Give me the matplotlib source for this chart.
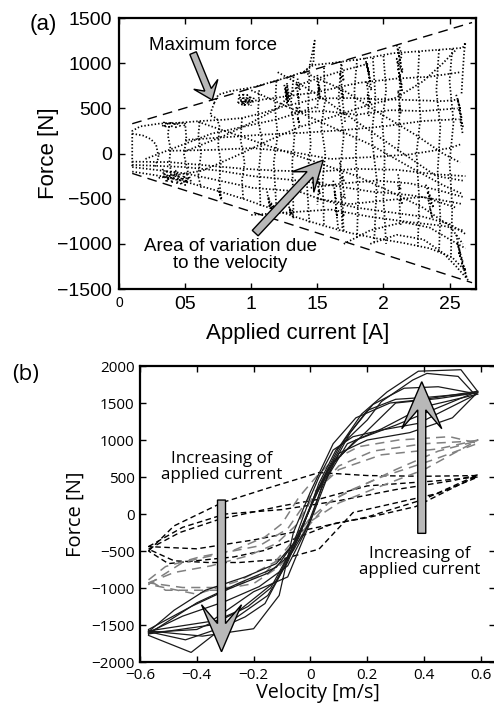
import numpy as np
import matplotlib.pyplot as plt
from matplotlib.patches import FancyArrow

# ---------------- panel (a): force vs applied current ----------------
current_ticks = [0, 0.5, 1, 1.5, 2, 2.5]
current_tick_labels = ['0', '05', '1', '15', '2', '25']
force_ticks_a = [-1500, -1000, -500, 0, 500, 1000, 1500]

# dashed envelope (current [A], force [N])
envelope_current = [0.10, 2.67]
envelope_upper = [330, 1450]
envelope_lower = [-220, -1430]

traces_a = [
    [(0.72, 560), (0.75, 650), (0.84, 690), (1.02, 735), (1.22, 820), (1.40, 905), (1.47, 980),
     (1.60, 1000), (1.85, 1050), (2.07, 1110), (2.25, 1130), (2.43, 1150), (2.60, 1170),
     (2.62, 1230), (2.61, 1120), (2.60, 900), (2.59, 650)],
    [(1.40, 905), (1.47, 1000), (1.48, 1250), (1.46, 1100), (1.44, 960)],
    [(0.72, 560), (0.70, 480), (0.69, 420), (0.74, 390), (0.76, 300), (0.75, 100), (0.77, -100),
     (0.76, -300), (0.77, -490)],
    [(0.10, -140), (0.10, 250), (0.16, 300), (0.30, 330), (0.45, 340), (0.62, 360), (0.80, 375),
     (0.93, 393), (1.09, 450), (1.24, 520), (1.36, 560), (1.50, 610), (1.75, 614), (2.00, 600),
     (2.25, 590), (2.45, 580), (2.58, 600)],
    [(0.10, 220), (0.18, 200), (0.24, 160), (0.28, 100), (0.30, -40), (0.27, -150)],
    [(0.10, -90), (0.38, -95), (0.65, -130), (0.95, -170), (1.20, -190), (1.50, -200),
     (1.80, -170), (2.10, -180), (2.40, -230), (2.62, -250)],
    [(0.10, -125), (0.50, -150), (0.76, -190), (1.01, -250), (1.36, -300), (1.60, -350),
     (1.90, -420), (2.20, -460), (2.45, -520), (2.60, -560)],
    [(0.10, -200), (0.25, -234), (0.40, -271), (0.58, -345), (0.76, -419), (0.96, -511),
     (1.14, -603), (1.36, -714), (1.55, -800), (1.75, -880), (1.95, -940), (2.15, -990),
     (2.35, -1050), (2.52, -1150), (2.62, -1300)],
    [(0.10, -150), (0.50, -220), (0.76, -300), (1.01, -380), (1.36, -420), (1.55, -520),
     (1.80, -600), (2.05, -650), (2.30, -700), (2.50, -780), (2.63, -900)],
    [(0.30, -270), (0.63, -190), (0.88, -30), (1.14, 150), (1.36, 290), (1.60, 400), (1.85, 520),
     (2.10, 620), (2.30, 800), (2.45, 1000), (2.55, 1150)],
    [(0.50, 24), (0.80, 200), (1.01, 350), (1.20, 500), (1.36, 760), (1.50, 830), (1.72, 930),
     (1.90, 1000)],
    [(0.60, 350), (0.90, 200), (1.20, 50), (1.50, -100), (1.80, -250), (2.05, -420),
     (2.30, -600), (2.50, -800), (2.60, -1000)],
    [(1.00, 700), (1.30, 500), (1.60, 300), (1.90, 100), (2.20, -150), (2.45, -350), (2.60, -450)],
    [(1.40, 900), (1.70, 700), (2.00, 420), (2.25, 200), (2.45, 0), (2.58, -100)],
    [(0.38, 30), (0.70, 40), (1.01, 60), (1.30, 20), (1.60, -60), (1.90, -40), (2.20, -10),
     (2.50, 60), (2.58, 100)],
    [(0.50, 150), (0.80, 180), (1.10, 210), (1.40, 230), (1.70, 260), (2.00, 300), (2.30, 360),
     (2.57, 380)],
    [(0.90, 560), (1.20, 620), (1.50, 680), (1.80, 780), (2.10, 830), (2.35, 850), (2.58, 900)],
    [(1.00, -680), (1.30, -650), (1.60, -620), (1.90, -700), (2.20, -760), (2.45, -800),
     (2.60, -850)],
    [(1.50, -500), (1.75, -560), (2.00, -520), (2.30, -480), (2.55, -600)],
    [(1.90, -1000), (2.10, -900), (2.30, -950), (2.45, -1100), (2.55, -1250), (2.64, -1400)],
    [(1.30, 450), (1.55, 470), (1.80, 430), (2.05, 480), (2.30, 470), (2.56, 500)],
    [(1.45, -380), (1.70, -330), (1.95, -300), (2.20, -330), (2.45, -420), (2.60, -480)],
    [(1.20, 900), (1.45, 700), (1.65, 500), (1.95, 200), (2.15, 0), (2.40, -250), (2.60, -300)],
    [(0.20, -60), (0.45, 80), (0.70, 220), (0.95, 300), (1.20, 380), (1.50, 520)],
    [(1.70, -1000), (1.90, -850), (2.15, -760), (2.35, -820), (2.50, -950), (2.62, -1050)],
    # wavy vertical runs
    [(0.38, 340), (0.37, 200), (0.39, 50), (0.38, -100), (0.40, -250)],
    [(0.50, 340), (0.51, 150), (0.49, 0), (0.52, -200), (0.50, -330)],
    [(0.61, 350), (0.60, 200), (0.62, 0), (0.60, -250), (0.62, -380)],
    [(0.93, 393), (0.92, 150), (0.95, -100), (0.93, -300), (0.94, -520)],
    [(1.06, 700), (1.05, 400), (1.08, 150), (1.06, -150), (1.07, -600)],
    [(1.19, 800), (1.18, 500), (1.20, 200), (1.17, -100), (1.19, -600)],
    [(1.32, 850), (1.30, 550), (1.33, 250), (1.31, -100), (1.32, -680)],
    [(1.44, 900), (1.43, 500), (1.45, 100), (1.42, -300), (1.44, -780)],
    [(1.55, 950), (1.56, 600), (1.53, 300), (1.56, 0), (1.54, -300), (1.55, -800)],
    [(1.68, 990), (1.66, 600), (1.70, 200), (1.67, -200), (1.69, -850)],
    [(1.80, 1040), (1.78, 700), (1.80, 300), (1.79, -50), (1.81, -400), (1.80, -950)],
    [(1.92, 1060), (1.94, 600), (1.91, 200), (1.95, -300), (1.93, -980)],
    [(2.00, 1080), (2.02, 700), (1.99, 350), (2.01, 0), (2.00, -500), (2.02, -1000)],
    [(2.27, 1130), (2.26, 800), (2.28, 400), (2.25, 0), (2.27, -500), (2.26, -1030)],
    [(2.42, 1150), (2.40, 700), (2.43, 300), (2.41, -200), (2.43, -700), (2.42, -1100)],
    [(2.52, 1160), (2.50, 800), (2.53, 350), (2.50, -100), (2.52, -600), (2.51, -1150)],
    # dense jittery clusters
    [(0.33, 300), (0.34, 345), (0.35, 285), (0.36, 350), (0.38, 295), (0.39, 355), (0.40, 300),
     (0.42, 345), (0.43, 290), (0.45, 350), (0.46, 305), (0.48, 340), (0.50, 300)],
    [(0.33, -170), (0.34, -260), (0.36, -180), (0.37, -300), (0.39, -200), (0.40, -330),
     (0.42, -210), (0.44, -340), (0.45, -230), (0.47, -350), (0.49, -240), (0.51, -320),
     (0.53, -250), (0.55, -330)],
    [(0.34, -220), (0.36, -320), (0.38, -240), (0.41, -290), (0.43, -190), (0.46, -300),
     (0.48, -260), (0.50, -350), (0.52, -280), (0.54, -300)],
    [(0.90, 560), (0.91, 650), (0.93, 540), (0.94, 670), (0.95, 520), (0.97, 650), (0.98, 540),
     (0.99, 640), (1.01, 560), (1.02, 620)],
    [(0.92, 600), (0.94, 540), (0.96, 610), (0.97, 560), (0.99, 600), (1.00, 530)],
    [(1.25, 760), (1.27, 560), (1.26, 740), (1.28, 580), (1.27, 780), (1.29, 600), (1.26, 700),
     (1.28, 540)],
    [(1.35, 830), (1.37, 700), (1.34, 780), (1.36, 600), (1.35, 680), (1.37, 450), (1.34, 520),
     (1.36, 350), (1.35, 400), (1.37, 280)],
    [(1.50, 870), (1.52, 700), (1.50, 800), (1.52, 600), (1.51, 720), (1.50, 500)],
    [(1.50, -200), (1.52, -350), (1.50, -300), (1.52, -450), (1.51, -400), (1.50, -566)],
    [(1.68, 1020), (1.70, 800), (1.67, 900), (1.70, 600), (1.68, 700), (1.71, 350)],
    [(1.67, -100), (1.70, -300), (1.68, -250), (1.71, -500), (1.68, -450), (1.70, -700),
     (1.69, -650), (1.70, -860)],
    [(1.86, 1060), (1.89, 900), (1.87, 1000), (1.90, 800), (1.88, 950), (1.91, 700), (1.87, 800),
     (1.90, 550), (1.88, 650), (1.89, 400)],
    [(2.10, 1200), (2.13, 1000), (2.11, 1150), (2.14, 900), (2.10, 1050), (2.13, 800),
     (2.11, 950), (2.14, 700), (2.12, 850), (2.13, 600), (2.11, 700), (2.13, 450), (2.12, 550),
     (2.12, 200), (2.11, 24)],
    [(2.12, 1180), (2.14, 1080), (2.11, 1000), (2.15, 920), (2.12, 860), (2.14, 760)],
    [(2.11, -230), (2.13, -400), (2.11, -350), (2.14, -550), (2.12, -500), (2.13, -790)],
    [(2.32, -345), (2.36, -500), (2.33, -420), (2.38, -600), (2.34, -520), (2.37, -714),
     (2.35, -600)],
    [(2.55, 650), (2.58, 500), (2.56, 600), (2.59, 400), (2.57, 500), (2.60, 300), (2.58, 380),
     (2.60, 210)],
    [(2.55, -900), (2.58, -1100), (2.56, -1000), (2.60, -1200), (2.57, -1100), (2.62, -1300),
     (2.59, -1200), (2.63, -1380), (2.61, -1250)],
    [(1.12, -420), (1.14, -600), (1.13, -480), (1.16, -680), (1.15, -540), (1.18, -700),
     (1.17, -580), (1.20, -660)],
    [(0.75, -380), (0.77, -500), (0.76, -420), (0.78, -520)],
    [(1.28, -550), (1.30, -680), (1.29, -600), (1.32, -720), (1.31, -620)],
    [(1.62, -300), (1.64, -500), (1.63, -420), (1.65, -700), (1.64, -600), (1.66, -860)],
]

# ---------------- panel (b): force vs velocity ----------------
velocity_ticks = [-0.6, -0.4, -0.2, 0, 0.2, 0.4, 0.6]
velocity_tick_labels = ['\u22120.6', '\u22120.4', '\u22120.2', '0', '0.2', '0.4', '0.6']
force_ticks_b = [-2000, -1500, -1000, -500, 0, 500, 1000, 1500, 2000]

# high current: solid black loops (velocity [m/s], force [N])
loops_high = [
    ([-0.57, -0.48, -0.37, -0.23, -0.12, -0.06, 0.00, 0.03, 0.08, 0.15, 0.25, 0.38, 0.58,
      0.52, 0.41, 0.36, 0.25, 0.20, 0.09, 0.03, 0.00, -0.04, -0.11, -0.16, -0.23, -0.32, -0.44, -0.57],
     [-1590, -1300, -1030, -850, -670, -400, 230, 500, 865, 1045, 1135, 1225, 1610,
      1860, 1900, 1810, 1520, 1270, 865, 415, 100, -310, -850, -1210, -1390, -1545, -1700, -1590]),
    ([-0.57, -0.45, -0.30, -0.18, -0.08, -0.02, 0.04, 0.10, 0.20, 0.35, 0.50, 0.59,
      0.53, 0.38, 0.27, 0.18, 0.10, 0.04, -0.02, -0.08, -0.15, -0.28, -0.42, -0.57],
     [-1600, -1380, -1180, -980, -700, -250, 350, 820, 1000, 1100, 1300, 1650,
      1950, 1930, 1650, 1350, 900, 450, -100, -650, -1100, -1450, -1870, -1640]),
    ([-0.57, -0.42, -0.28, -0.15, -0.07, 0.00, 0.06, 0.13, 0.25, 0.40, 0.59,
      0.45, 0.33, 0.22, 0.14, 0.07, 0.01, -0.05, -0.12, -0.25, -0.40, -0.57],
     [-1560, -1250, -1000, -800, -550, -100, 500, 950, 1150, 1450, 1620,
      1720, 1700, 1480, 1100, 600, 200, -350, -900, -1300, -1560, -1600]),
    ([-0.57, -0.40, -0.25, -0.12, -0.04, 0.02, 0.08, 0.18, 0.30, 0.45, 0.59,
      0.42, 0.30, 0.20, 0.12, 0.05, -0.01, -0.07, -0.14, -0.22, -0.35, -0.57],
     [-1620, -1200, -930, -720, -300, 300, 700, 1050, 1500, 1560, 1640,
      1580, 1550, 1400, 1000, 500, 0, -500, -1000, -1250, -1500, -1620]),
    ([-0.57, -0.35, -0.20, -0.08, -0.01, 0.06, 0.16, 0.30, 0.59,
      0.40, 0.28, 0.16, 0.08, 0.00, -0.06, -0.11, -0.20, -0.38, -0.57],
     [-1580, -1450, -1050, -850, -200, 600, 1000, 1200, 1660,
      1550, 1500, 1300, 950, 300, -250, -1100, -1550, -1650, -1580]),
]

# low current: black dashed loops
loops_low = [
    ([-0.57, -0.48, -0.31, -0.15, 0.03, 0.20, 0.40, 0.59,
      0.50, 0.37, 0.20, 0.08, -0.04, -0.16, -0.27, -0.40, -0.50, -0.57],
     [-500, -160, 155, 350, 560, 520, 510, 520,
      350, 100, -50, -130, -310, -490, -580, -630, -670, -500]),
    ([-0.57, -0.46, -0.32, -0.10, 0.03, 0.20, 0.45, 0.59,
      0.45, 0.30, 0.15, 0.03, -0.10, -0.25, -0.36, -0.48, -0.57],
     [-475, -250, -70, 110, 200, 380, 450, 500,
      280, 150, 20, -475, -610, -655, -655, -632, -475]),
    ([-0.57, -0.45, -0.30, -0.10, 0.10, 0.30, 0.50, 0.59,
      0.40, 0.20, 0.00, -0.20, -0.40, -0.57],
     [-440, -180, 0, 60, 180, 330, 450, 530,
      200, -40, -200, -350, -470, -440]),
]

# medium current: grey dashed loops
loops_mid = [
    ([-0.57, -0.51, -0.39, -0.27, -0.16, -0.10, -0.04, 0.02, 0.08, 0.17, 0.31, 0.49, 0.59,
      0.43, 0.25, 0.14, 0.06, -0.02, -0.06, -0.11, -0.20, -0.33, -0.51, -0.57],
     [-890, -710, -580, -490, -310, -130, 230, 500, 730, 910, 1000, 1045, 955,
      730, 500, 320, 140, -220, -490, -710, -940, -1030, -1030, -890]),
    ([-0.57, -0.48, -0.35, -0.22, -0.12, -0.05, 0.02, 0.10, 0.22, 0.40, 0.59,
      0.45, 0.30, 0.18, 0.08, 0.00, -0.08, -0.16, -0.28, -0.45, -0.57],
     [-930, -790, -700, -565, -400, -150, 300, 650, 850, 950, 990,
      850, 600, 380, 200, -50, -450, -800, -993, -993, -930]),
    ([-0.57, -0.45, -0.30, -0.18, -0.08, 0.00, 0.10, 0.25, 0.45, 0.59,
      0.40, 0.25, 0.10, 0.00, -0.10, -0.25, -0.40, -0.57],
     [-950, -655, -520, -430, -200, 250, 600, 800, 880, 1000,
      600, 380, 150, -100, -600, -900, -1083, -950]),
]

# ---------------- figure ----------------
fig = plt.figure(figsize=(4.94, 7.07), dpi=100)
font_a = 'Liberation Sans'
font_b = 'Open Sans'

ax1 = fig.add_axes([0.2409, 0.5912, 0.7227, 0.3833])
for tr in traces_a:
    tr = np.array(tr)
    ax1.plot(tr[:, 0], tr[:, 1], ls=(0, (0.8, 1.2)), lw=1.25, color='k')
ax1.plot(envelope_current, envelope_upper, ls=(0, (7, 4.5)), lw=1.0, color='k')
ax1.plot(envelope_current, envelope_lower, ls=(0, (7, 4.5)), lw=1.0, color='k')
ax1.set_xlim(0, 2.7)
ax1.set_ylim(-1500, 1500)
ax1.set_xticks(current_ticks)
ax1.set_xticklabels(current_tick_labels)
ax1.set_yticks(force_ticks_a)
ax1.tick_params(direction='in', top=True, right=True, length=4, width=1.0, labelsize=14,
                pad=5)
for lab in ax1.get_xticklabels() + ax1.get_yticklabels():
    lab.set_family(font_a)
ax1.get_xticklabels()[0].set_fontsize(10)
for sp in ax1.spines.values():
    sp.set_linewidth(1.6)
ax1.set_xlabel('Applied current [A]', family=font_a, fontsize=16, labelpad=7)
ax1.set_ylabel('Force [N]', family=font_a, fontsize=16, labelpad=-1)
ax1.text(0.712, 1201, 'Maximum force', family=font_a, fontsize=13.5, ha='center', va='center')
ax1.text(0.84, -1125, 'Area of variation due\nto the velocity', family=font_a, fontsize=13.5,
         ha='center', va='center', linespacing=0.95)
fig.text(0.087, 0.965, '(a)', family=font_a, fontsize=16, ha='center', va='center')

ax2 = fig.add_axes([0.2834, 0.0636, 0.7187, 0.4187])
for v, f in loops_low:
    ax2.plot(v, f, ls=(0, (4, 2.5)), lw=1.0, color='k')
for v, f in loops_mid:
    ax2.plot(v, f, ls=(0, (6, 4)), lw=1.1, color='0.5')
for v, f in loops_high:
    ax2.plot(v, f, ls='-', lw=0.9, color='0.1')
ax2.set_xlim(-0.6, 0.65)
ax2.set_ylim(-2000, 2000)
ax2.set_xticks(velocity_ticks)
ax2.set_xticklabels(velocity_tick_labels)
ax2.set_yticks(force_ticks_b)
ax2.tick_params(direction='in', top=True, right=True, length=4, width=1.0, labelsize=11,
                pad=4)
for lab in ax2.get_xticklabels() + ax2.get_yticklabels():
    lab.set_family(font_b)
for sp in ax2.spines.values():
    sp.set_linewidth(1.6)
ax2.set_xlabel('Velocity [m/s]', family=font_b, fontsize=14.2, labelpad=0)
ax2.set_ylabel('Force [N]', family=font_b, fontsize=14.5, labelpad=4)
ax2.text(-0.311, 635, 'Increasing of\napplied current', family=font_b, fontsize=12.2,
         ha='center', va='center', linespacing=0.95)
ax2.text(0.386, -649, 'Increasing of\napplied current', family=font_b, fontsize=12.2,
         ha='center', va='center', linespacing=0.95)
fig.text(0.051, 0.470, '(b)', family=font_b, fontsize=16, ha='center', va='center')


def block_arrow(ax, start, end, shaft, head_w, head_l, overhang):
    # arrow drawn in inches so the head keeps its shape; sizes given in pixels
    p0 = ax.transData.transform(start) / fig.dpi
    p1 = ax.transData.transform(end) / fig.dpi
    d = p1 - p0
    arr = FancyArrow(p0[0], p0[1], d[0], d[1], width=shaft / fig.dpi,
                     head_width=head_w / fig.dpi, head_length=head_l / fig.dpi,
                     overhang=overhang, length_includes_head=True,
                     transform=fig.dpi_scale_trans, fc='0.72', ec='k', lw=1.0, zorder=5)
    fig.add_artist(arr)


block_arrow(ax1, (0.56, 1112), (0.705, 592), 7, 26, 17, 0.35)
block_arrow(ax1, (1.03, -881), (1.545, -73), 8, 30, 30, 0.35)
block_arrow(ax2, (-0.313, 189), (-0.313, -1861), 8, 40, 47, 0.4)
block_arrow(ax2, (0.392, -261), (0.392, 1788), 8, 40, 47, 0.4)

fig.savefig('out.png', dpi=100)
